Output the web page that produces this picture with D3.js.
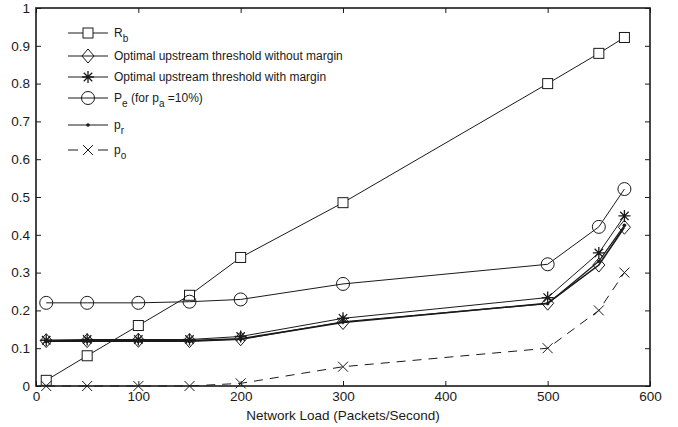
<!DOCTYPE html>
<html>
<head>
<meta charset="utf-8">
<script src="https://cdn.jsdelivr.net/npm/d3@7"></script>
<style>
  body { margin: 0; background: #fff; }
  svg { display: block; font-family: "Liberation Sans", Arial, Helvetica, sans-serif; }
</style>
</head>
<body>
<svg id="chart" width="678" height="427"></svg>
<script>
// Network load (packets/second)
const loads = [10, 50, 100, 150, 200, 300, 500, 550, 575];

const rb       = [0.015, 0.08, 0.16, 0.24, 0.34, 0.485, 0.80, 0.88, 0.922];
const noMargin = [0.12, 0.12, 0.121, 0.12, 0.125, 0.168, 0.219, 0.32, 0.42];
const margin   = [0.121, 0.123, 0.123, 0.123, 0.131, 0.179, 0.234, 0.352, 0.45];
const pe       = [0.22, 0.22, 0.22, 0.223, 0.229, 0.27, 0.322, 0.421, 0.521];
const pr       = [0.118, 0.118, 0.118, 0.118, 0.123, 0.17, 0.218, 0.33, 0.425];
const po       = [0.0, 0.0, 0.0, 0.0, 0.007, 0.051, 0.10, 0.20, 0.30];

const xTicks = [0, 100, 200, 300, 400, 500, 600];
const yTicks = [0, 0.1, 0.2, 0.3, 0.4, 0.5, 0.6, 0.7, 0.8, 0.9, 1];

const svg = d3.select("#chart");
const L = 36, R = 650, T = 8, B = 386;

const x = d3.scaleLinear().domain([0, 600]).range([L, R]);
const y = d3.scaleLinear().domain([0, 1]).range([B, T]);

const ink = "#1a1a1a";

// axes with inward ticks on all four sides
const tickLen = 5;
svg.append("g").attr("transform", `translate(0,${B})`)
  .call(d3.axisBottom(x).tickValues(xTicks).tickSizeInner(-tickLen).tickSizeOuter(0).tickPadding(5).tickFormat(d3.format("d")))
  .call(g => g.select(".domain").remove());
svg.append("g").attr("transform", `translate(0,${T})`)
  .call(d3.axisTop(x).tickValues(xTicks).tickSizeInner(-tickLen).tickSizeOuter(0).tickFormat(""))
  .call(g => g.select(".domain").remove());
svg.append("g").attr("transform", `translate(${L},0)`)
  .call(d3.axisLeft(y).tickValues(yTicks).tickSizeInner(-tickLen).tickSizeOuter(0).tickPadding(6).tickFormat(d => d === 0 || d === 1 ? d3.format("d")(d) : d3.format(".1f")(d)))
  .call(g => g.select(".domain").remove());
svg.append("g").attr("transform", `translate(${R},0)`)
  .call(d3.axisRight(y).tickValues(yTicks).tickSizeInner(-tickLen).tickSizeOuter(0).tickFormat(""))
  .call(g => g.select(".domain").remove());

svg.selectAll(".tick line").attr("stroke", ink);
svg.selectAll(".tick text").attr("fill", ink).attr("font-size", 13.5)
  .attr("font-family", "'Liberation Sans', Arial, sans-serif");

svg.append("rect").attr("x", L).attr("y", T).attr("width", R - L).attr("height", B - T)
  .attr("fill", "none").attr("stroke", ink).attr("stroke-width", 1.6);

svg.append("text").attr("x", (L + R) / 2).attr("y", 420).attr("text-anchor", "middle")
  .attr("font-size", 13.5).attr("fill", ink).text("Network Load (Packets/Second)");

// marker drawing
function marker(g, type, cx, cy) {
  const s = g.append("g").attr("transform", `translate(${cx},${cy})`)
    .attr("fill", "none").attr("stroke", ink).attr("stroke-width", 1);
  if (type === "square") s.append("rect").attr("x", -5).attr("y", -5).attr("width", 10).attr("height", 10).attr("fill", "#fff");
  if (type === "diamond") s.append("path").attr("d", "M0,-7L6,0L0,7L-6,0Z").attr("fill", "none");
  if (type === "circle") s.append("circle").attr("r", 6.5).attr("fill", "none");
  if (type === "star") {
    s.append("path").attr("d", "M0,-6V6M-6,0H6M-4.2,-4.2L4.2,4.2M-4.2,4.2L4.2,-4.2").attr("stroke-width", 1.3);
  }
  if (type === "dot") s.append("circle").attr("r", 1.8).attr("fill", ink).attr("stroke", "none");
  if (type === "cross") s.append("path").attr("d", "M-5,-5L5,5M-5,5L5,-5");
}

const series = [
  { name: "rb", values: rb, type: "square", dash: null, w: 1 },
  { name: "noMargin", values: noMargin, type: "diamond", dash: null, w: 1.6 },
  { name: "margin", values: margin, type: "star", dash: null, w: 1 },
  { name: "pe", values: pe, type: "circle", dash: null, w: 1 },
  { name: "pr", values: pr, type: "dot", dash: null, w: 1.2 },
  { name: "po", values: po, type: "cross", dash: "9,7", w: 1 }
];

const line = d3.line().x((d, i) => x(loads[i])).y(d => y(d));
const plot = svg.append("g");
series.forEach(s => {
  plot.append("path").datum(s.values).attr("d", line)
    .attr("fill", "none").attr("stroke", ink).attr("stroke-width", s.w)
    .attr("stroke-dasharray", s.dash);
});
series.forEach(s => {
  s.values.forEach((v, i) => marker(plot, s.type, x(loads[i]), y(v)));
});

// legend
const leg = svg.append("g").attr("font-size", 12).attr("fill", ink);
const legendRows = [
  { y: 33, type: "square", dash: null, label: ["R", "b", ""] },
  { y: 56, type: "diamond", dash: null, label: ["Optimal upstream threshold without margin"] },
  { y: 77, type: "star", dash: null, label: ["Optimal upstream threshold with margin"] },
  { y: 98, type: "circle", dash: null, label: ["P", "e", " (for p", "a", " =10%)"] },
  { y: 125, type: "dot", dash: null, label: ["p", "r", ""] },
  { y: 150, type: "cross", dash: "10,20,10", label: ["p", "o", ""] }
];
legendRows.forEach(r => {
  leg.append("line").attr("x1", 68).attr("x2", 108).attr("y1", r.y).attr("y2", r.y)
    .attr("stroke", ink).attr("stroke-width", 1).attr("stroke-dasharray", r.dash);
  marker(leg, r.type, 88, r.y);
  const t = leg.append("text").attr("x", 114).attr("y", r.y + 4).attr("fill", ink);
  r.label.forEach((part, i) => {
    if (part === "") return;
    const sub = i % 2 === 1;
    const ts = t.append("tspan").text(part);
    if (sub) ts.attr("font-size", 10).attr("dy", 5);
    else if (i > 0) ts.attr("dy", -5);
  });
});
</script>
</body>
</html>
